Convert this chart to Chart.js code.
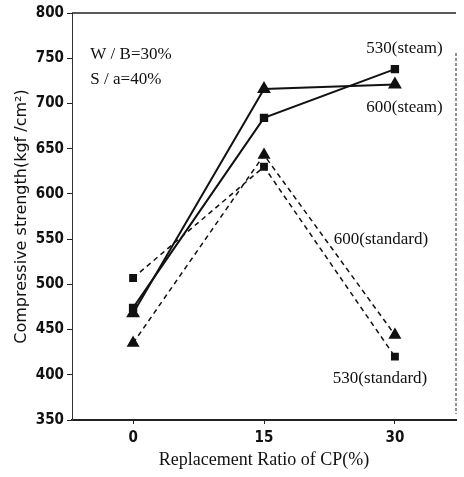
<!DOCTYPE html>
<html>
<head>
<meta charset="utf-8">
<script src="https://cdn.jsdelivr.net/npm/chart.js@4/dist/chart.umd.min.js"></script>
<style>
  html, body { margin: 0; padding: 0; background: #fff; }
  #wrap { width: 464px; height: 477px; }
</style>
</head>
<body>
<div id="wrap"><canvas id="c"></canvas></div>
<script>
// replacement ratio of CP (%)
const ratios = [0, 15, 30];
const xTicks = [0, 15, 30];

// compressive strength (kgf/cm2)
const steam530 = [474, 684, 738];
const steam600 = [468, 716, 721];
const standard600 = [435, 643, 444];
const standard530 = [507, 630, 420];

const serif = "'Liberation Serif', 'DejaVu Serif', serif";
const tickFont = "'Liberation Sans Narrow', 'DejaVu Sans Condensed', sans-serif";

function pts(vals) {
    return vals.map((v, i) => ({ x: ratios[i], y: v }));
}

// text labels placed in data units
const notes = [
    { text: 'W / B=30%', x: -4.9, y: 754, align: 'left' },
    { text: 'S / a=40%', x: -4.9, y: 726, align: 'left' },
    { text: '530(steam)', x: 31.1, y: 761, align: 'center' },
    { text: '600(steam)', x: 31.1, y: 695, align: 'center' },
    { text: '600(standard)', x: 28.4, y: 549, align: 'center' },
    { text: '530(standard)', x: 28.3, y: 396, align: 'center' }
];

const framePlugin = {
    id: 'frame',
    afterDraw(chart) {
        const ctx = chart.ctx;
        const a = chart.chartArea;
        ctx.save();
        ctx.strokeStyle = '#222';
        ctx.lineWidth = 1.5;
        ctx.beginPath();
        ctx.moveTo(a.left, a.top);
        ctx.lineTo(a.right, a.top);
        ctx.stroke();
        ctx.lineWidth = 1;
        ctx.setLineDash([3, 2]);
        ctx.beginPath();
        ctx.moveTo(a.right, a.top + 40);
        ctx.lineTo(a.right, a.bottom - 6);
        ctx.stroke();
        ctx.setLineDash([]);

        ctx.fillStyle = '#111';
        ctx.font = '17px ' + serif;
        ctx.textBaseline = 'middle';
        const sx = chart.scales.x, sy = chart.scales.y;
        notes.forEach(n => {
            ctx.textAlign = n.align;
            ctx.fillText(n.text, sx.getPixelForValue(n.x), sy.getPixelForValue(n.y));
        });
        ctx.restore();
    }
};

new Chart(document.getElementById('c').getContext('2d'), {
    type: 'line',
    data: {
        datasets: [
            { label: '530(steam)', data: pts(steam530), borderColor: '#111', backgroundColor: '#111',
              borderWidth: 2, pointStyle: 'rect', pointRadius: 4.5 },
            { label: '600(steam)', data: pts(steam600), borderColor: '#111', backgroundColor: '#111',
              borderWidth: 2, pointStyle: 'triangle', pointRadius: 6 },
            { label: '600(standard)', data: pts(standard600), borderColor: '#111', backgroundColor: '#111',
              borderWidth: 1.5, borderDash: [5, 4], pointStyle: 'triangle', pointRadius: 6 },
            { label: '530(standard)', data: pts(standard530), borderColor: '#111', backgroundColor: '#111',
              borderWidth: 1.5, borderDash: [5, 4], pointStyle: 'rect', pointRadius: 4.5 }
        ]
    },
    options: {
        responsive: true,
        maintainAspectRatio: false,
        animation: false,
        layout: { padding: { top: 13, right: 6, left: 12, bottom: 2 } },
        plugins: { legend: { display: false }, tooltip: { enabled: false } },
        scales: {
            x: {
                type: 'linear',
                min: -7,
                max: 37,
                afterBuildTicks(scale) { scale.ticks = xTicks.map(v => ({ value: v })); },
                afterFit(scale) { scale.height = 55; },
                grid: { display: true, drawOnChartArea: false, tickLength: 4, color: '#222' },
                border: { display: true, color: '#222', width: 2 },
                ticks: { color: '#111', font: { family: tickFont, size: 15, weight: 'bold' }, padding: 5 },
                title: { display: true, text: 'Replacement Ratio of CP(%)', color: '#111',
                         font: { family: serif, size: 18 }, padding: { top: 4 } }
            },
            y: {
                min: 350,
                max: 800,
                afterFit(scale) { scale.width = 60; },
                grid: { display: true, drawOnChartArea: false, tickLength: 5, color: '#222' },
                border: { display: true, color: '#333', width: 1, dash: [4, 2] },
                ticks: { stepSize: 50, color: '#111', font: { family: tickFont, size: 15, weight: 'bold' }, padding: 3 },
                title: { display: true, text: 'Compressive strength(kgf /cm²)', color: '#111',
                         font: { family: "'DejaVu Sans', sans-serif", size: 16 }, padding: 0 }
            }
        }
    },
    plugins: [framePlugin]
});
</script>
</body>
</html>
